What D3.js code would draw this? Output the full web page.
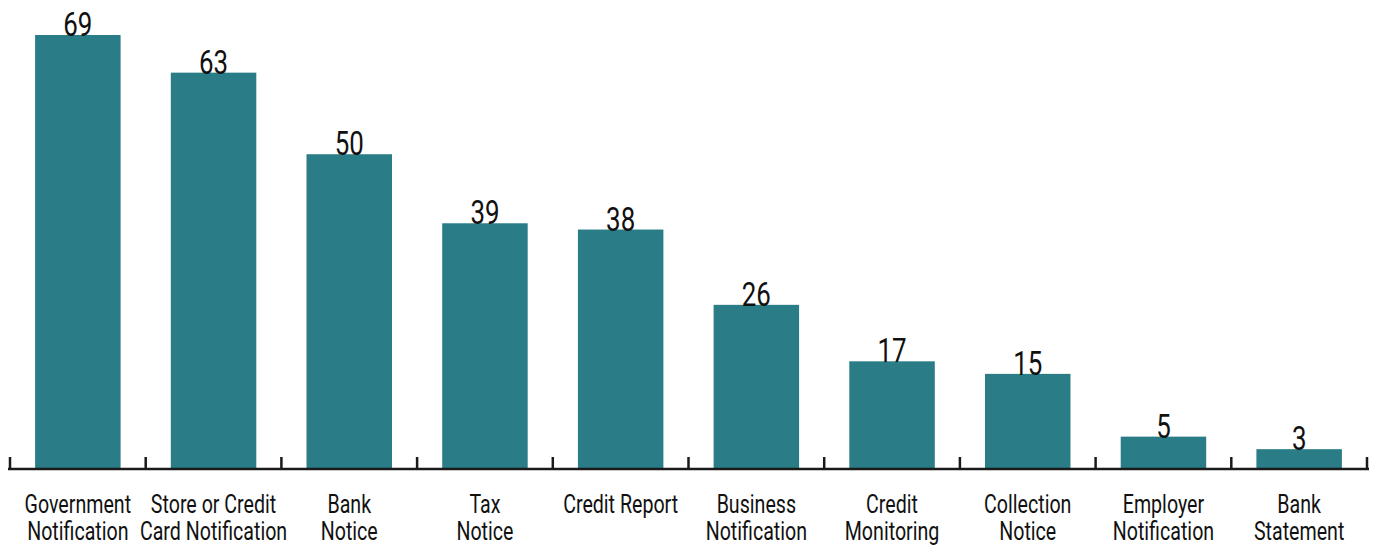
<!DOCTYPE html>
<html>
<head>
<meta charset="utf-8">
<script src="https://cdn.jsdelivr.net/npm/d3@7"></script>
<style>
	body { margin: 0; background: #fff; }
	text { font-family: "Roboto", "DejaVu Sans", sans-serif; fill: #111; }
</style>
</head>
<body>
<div id="chart"></div>
<script>
// Categories, each label split into lines.
var categories = [
	["Government", "Notification"],
	["Store or Credit", "Card Notification"],
	["Bank", "Notice"],
	["Tax", "Notice"],
	["Credit Report"],
	["Business", "Notification"],
	["Credit", "Monitoring"],
	["Collection", "Notice"],
	["Employer", "Notification"],
	["Bank", "Statement"]
];
var values = [69, 63, 50, 39, 38, 26, 17, 15, 5, 3];

var width = 1376,
	height = 546,
	axisY = 468,
	squeeze = 0.785; // condensed look for the text

var svg = d3.select("#chart").append("svg")
	.attr("width", width)
	.attr("height", height);

var x = d3.scaleBand()
	.domain(d3.range(categories.length))
	.range([10, 1367])
	.paddingInner(0.37)
	.paddingOuter(0.185);

var step = x.step();
var x0 = 10;

var y = d3.scaleLinear()
	.domain([0, 69])
	.range([axisY, 35]);

// Bars.
svg.selectAll(".bar")
	.data(values)
	.enter().append("rect")
	.attr("class", "bar")
	.attr("x", function (d, i) { return x(i); })
	.attr("y", function (d) { return y(d); })
	.attr("width", x.bandwidth())
	.attr("height", function (d) { return axisY - y(d); })
	.style("fill", "#2a7d86");

// Value labels.
svg.selectAll(".val")
	.data(values)
	.enter().append("text")
	.attr("class", "val")
	.attr("transform", function (d, i) {
		return "translate(" + (x(i) + x.bandwidth() / 2) + "," + (y(d) + 1) + ") scale(" + squeeze + ",1)";
	})
	.attr("text-anchor", "middle")
	.style("font-size", "33px")
	.text(function (d) { return d; });

// Axis line and ticks at category boundaries.
svg.append("line")
	.attr("x1", 8).attr("x2", 1369)
	.attr("y1", axisY + 1).attr("y2", axisY + 1)
	.style("stroke", "#1a1a1a")
	.style("stroke-width", 2.5);

svg.selectAll(".tick")
	.data(d3.range(categories.length + 1))
	.enter().append("line")
	.attr("class", "tick")
	.attr("x1", function (d) { return x0 + d * step; })
	.attr("x2", function (d) { return x0 + d * step; })
	.attr("y1", axisY - 11)
	.attr("y2", axisY + 2)
	.style("stroke", "#1a1a1a")
	.style("stroke-width", 2.5);

// Category labels.
var lab = svg.selectAll(".cat")
	.data(categories)
	.enter().append("text")
	.attr("class", "cat")
	.attr("text-anchor", "middle")
	.style("font-size", "25px")
	.attr("transform", function (d, i) {
		return "translate(" + (x(i) + x.bandwidth() / 2) + ",513) scale(" + squeeze + ",1)";
	});

lab.selectAll("tspan")
	.data(function (d) { return d; })
	.enter().append("tspan")
	.attr("x", 0)
	.attr("dy", function (d, j) { return j === 0 ? 0 : 27; })
	.text(function (d) { return d; });
</script>
</body>
</html>
